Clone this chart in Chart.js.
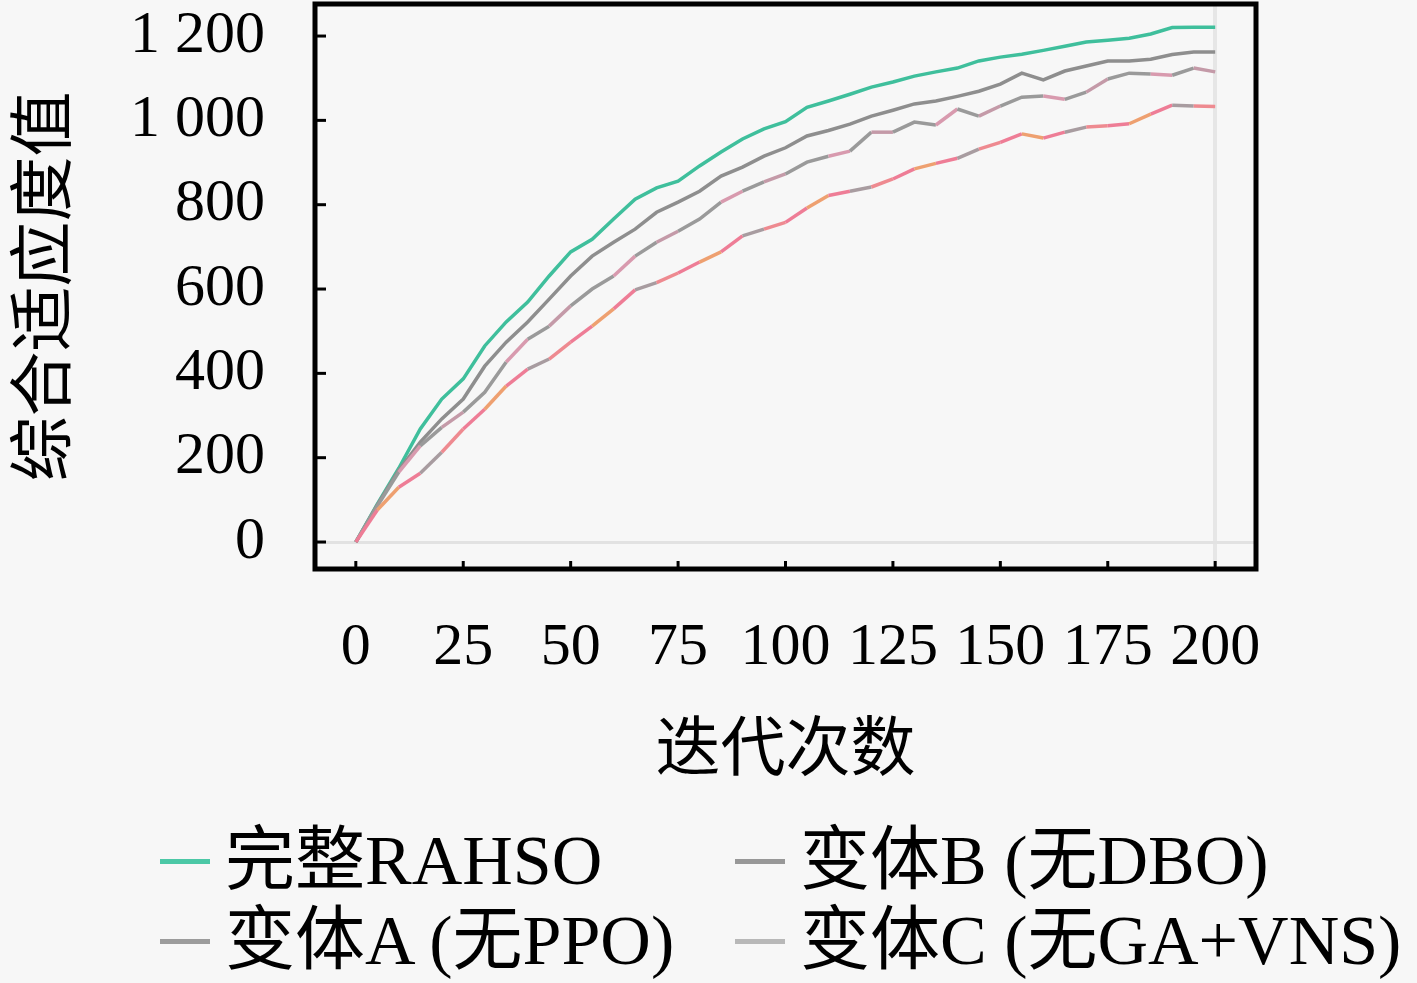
<!DOCTYPE html>
<html>
<head>
<meta charset="utf-8">
<script src="https://cdn.jsdelivr.net/npm/chart.js@4"></script>
<style>
  html, body { margin: 0; padding: 0; background: #f7f7f7; }
  #wrap { position: relative; width: 1417px; height: 983px; }
  #chart { position: absolute; left: 0; top: 0; }
  .sample { position: absolute; width: 50px; height: 5px; }
  .label {
    position: absolute; line-height: 80px; font-size: 70px; color: #000;
    font-family: "Liberation Serif", "Noto Sans CJK SC", serif; white-space: nowrap;
  }
</style>
</head>
<body>
<div id="wrap">
  <canvas id="chart" width="1417" height="983"></canvas>
  <div id="legend"></div>
</div>
<script>
// iterations (x) and fitness values
const iters = [0, 5, 10, 15, 20, 25, 30, 35, 40, 45, 50, 55, 60, 65, 70, 75, 80, 85, 90, 95, 100,
  105, 110, 115, 120, 125, 130, 135, 140, 145, 150, 155, 160, 165, 170, 175, 180, 185, 190, 195, 200];

const fullRAHSO = [0, 90, 175, 268, 339, 387, 465, 522, 569, 631, 688, 718, 766, 813, 840, 856, 892, 925, 956, 980, 997,
  1031, 1046, 1062, 1079, 1091, 1105, 1115, 1124, 1141, 1150, 1157, 1166, 1176, 1186, 1190, 1195, 1205, 1220, 1221, 1221];
const variantB = [0, 88, 170, 237, 292, 339, 417, 474, 522, 576, 631, 678, 711, 742, 782, 806, 832, 868, 889, 915, 935,
  963, 976, 991, 1010, 1024, 1039, 1046, 1057, 1069, 1086, 1112, 1096, 1117, 1129, 1141, 1141, 1145, 1156, 1162, 1162];
const variantA = [0, 85, 166, 228, 272, 308, 355, 427, 481, 512, 560, 600, 631, 678, 711, 737, 766, 806, 832, 854, 873,
  901, 915, 927, 972, 972, 996, 989, 1027, 1010, 1034, 1055, 1058, 1050, 1067, 1098, 1112, 1110, 1107, 1124, 1115];
const variantC = [0, 76, 130, 163, 213, 268, 315, 370, 410, 434, 474, 512, 553, 598, 615, 638, 664, 688, 726, 742, 758,
  792, 822, 832, 842, 861, 885, 898, 910, 932, 948, 968, 958, 972, 984, 987, 992, 1015, 1036, 1034, 1033];

const seriesNames = ["完整RAHSO", "变体B (无DBO)", "变体A (无PPO)", "变体C (无GA+VNS)"];
const xTicks = [0, 25, 50, 75, 100, 125, 150, 175, 200];
const yTicks = [0, 200, 400, 600, 800, 1000, 1200];

const legendColors = ["#4cc8a6", "#989898", "#9c9c9c", "#b8b8b8"];
const lineColors = [
  ["#3fbf9c"],
  ["#8e8e8e"],
  ["#9a9a9a", "#9a9a9a", "#d89aae", "#9a9a9a", "#c49aa8"],
  ["#ee7d96", "#eea070", "#ee7d96", "#a89ca0", "#ee8a90"]
];

Chart.defaults.font.family = '"Liberation Serif", "Noto Sans CJK SC", serif';
Chart.defaults.color = "#000";

const seriesValues = [fullRAHSO, variantB, variantA, variantC];
const datasets = seriesValues.map((vals, k) => ({
  label: seriesNames[k],
  data: iters.map((x, i) => ({ x: x, y: vals[i] })),
  borderColor: legendColors[k],
  borderWidth: 3.5,
  pointRadius: 0,
  tension: 0,
  segment: {
    borderColor: c => lineColors[k][c.p0DataIndex % lineColors[k].length]
  }
}));
// draw the top line last
datasets.reverse();

// no automatic padding from tick labels
const noPad = s => { s.paddingTop = 0; s.paddingBottom = 0; s.paddingLeft = 0; s.paddingRight = 0; };

// thick frame with inward ticks
const framePlugin = {
  id: "frame",
  afterDraw(chart) {
    const { ctx, chartArea: a, scales } = chart;
    ctx.save();
    ctx.strokeStyle = "#000";
    ctx.lineWidth = 3;
    yTicks.forEach(v => {
      const y = scales.y.getPixelForValue(v);
      ctx.beginPath(); ctx.moveTo(a.left, y); ctx.lineTo(a.left + 11, y); ctx.stroke();
    });
    xTicks.forEach(v => {
      const x = scales.x.getPixelForValue(v);
      ctx.beginPath(); ctx.moveTo(x, a.bottom); ctx.lineTo(x, a.bottom - 8); ctx.stroke();
    });
    ctx.lineWidth = 5;
    ctx.strokeRect(a.left, a.top, a.right - a.left, a.bottom - a.top);
    ctx.restore();
  }
};

new Chart(document.getElementById("chart"), {
  type: "line",
  data: { datasets },
  options: {
    responsive: false,
    animation: false,
    layout: { autoPadding: false, padding: { left: 0, right: 161, top: 4, bottom: 174 } },
    plugins: { legend: { display: false }, tooltip: { enabled: false } },
    scales: {
      x: {
        type: "linear",
        min: -9.5,
        max: 209.5,
        afterFit: s => { s.height = 240; noPad(s); },
        afterBuildTicks: s => { s.ticks = xTicks.map(v => ({ value: v })); },
        grid: {
          drawTicks: false,
          lineWidth: 4,
          color: c => (c.tick && c.tick.value === 200 ? "#e6e6e6" : "rgba(0,0,0,0)")
        },
        border: { display: false },
        ticks: { autoSkip: false, maxRotation: 0, padding: 43, font: { size: 60 } },
        title: {
          display: true,
          text: "迭代次数",
          font: { size: 65, family: '"Noto Sans CJK SC", sans-serif' },
          padding: { top: 0, bottom: 25 }
        }
      },
      y: {
        min: -64,
        max: 1276,
        afterFit: s => { s.width = 315; noPad(s); },
        afterBuildTicks: s => { s.ticks = yTicks.map(v => ({ value: v })); },
        grid: {
          drawTicks: false,
          lineWidth: 3,
          color: c => (c.tick && c.tick.value === 0 ? "#e2e2e2" : "rgba(0,0,0,0)")
        },
        border: { display: false },
        ticks: {
          padding: 50,
          font: { size: 60 },
          callback: v => String(v).replace(/\B(?=(\d{3})+(?!\d))/g, " ")
        },
        title: {
          display: true,
          text: "综合适应度值",
          font: { size: 65, family: '"Noto Sans CJK SC", sans-serif' },
          padding: { top: 1, bottom: 0 }
        }
      }
    }
  },
  plugins: [framePlugin]
});

// legend laid out in two fixed columns
const legendPos = [[160, 861], [735, 861], [160, 941], [735, 941]];
const legend = document.getElementById("legend");
seriesNames.forEach((name, k) => {
  const [lx, ly] = legendPos[k];
  const s = document.createElement("div");
  s.className = "sample";
  s.style.left = lx + "px";
  s.style.top = (ly - 2) + "px";
  s.style.background = legendColors[k];
  legend.appendChild(s);
  const t = document.createElement("div");
  t.className = "label";
  t.style.left = (lx + 65) + "px";
  t.style.top = (ly - 40) + "px";
  t.textContent = name;
  legend.appendChild(t);
});
</script>
</body>
</html>
